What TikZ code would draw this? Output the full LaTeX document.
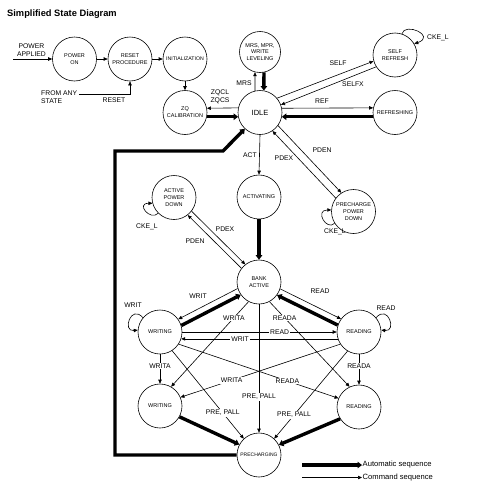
\documentclass[tikz,border=0pt]{standalone}
\usepackage{fontspec}
\setmainfont{Liberation Sans}
\usetikzlibrary{arrows.meta}
\begin{document}
\begin{tikzpicture}[x=1pt,y=-1pt,
  st/.style={circle, draw, line width=0.6pt, minimum size=44pt, inner sep=0pt, align=center, font=\fontsize{5.5}{6.8}\selectfont},
  cmd/.style={line width=0.6pt, -{Triangle[length=4pt,width=3.4pt]}},
  autoseq/.style={line width=3.4pt, -{Triangle[length=4.5pt,width=6.5pt]}},
  lbl/.style={font=\fontsize{6.8}{8}\selectfont, inner sep=0.5pt},
  lblw/.style={lbl, fill=white, inner sep=1pt}]
\useasboundingbox (0,0) rectangle (500,490);

\node[anchor=west, inner sep=0pt, font=\bfseries\fontsize{9.3}{11}\selectfont] (title) at (7,14) {Simplified State Diagram};

% states
\node[st] (pon) at (74.5,59) {POWER\\ON};
\node[st] (rst) at (130,59) {RESET\\PROCEDURE};
\node[st, font=\fontsize{5.2}{6.5}\selectfont] (init) at (185,59) {INITIALIZATION};
\node[st] (zq) at (185,112.5) {ZQ\\CALIBRATION};
\node[st, font=\fontsize{7.5}{9}\selectfont] (idle) at (260,112.5) {IDLE};
\node[st, minimum size=41pt] (mrs) at (260,52) {MRS, MPR,\\WRITE\\LEVELING};
\node[st] (self) at (395,55) {SELF\\REFRESH};
\node[st] (refr) at (395,112.5) {REFRESHING};
\node[st] (apd) at (174,197.5) {ACTIVE\\POWER\\DOWN};
\node[st] (actv) at (259,197) {ACTIVATING};
\node[st] (ppd) at (353.5,211.5) {PRECHARGE\\POWER\\DOWN};
\node[st] (ba) at (259,282) {BANK\\ACTIVE};
\node[st] (wr1) at (160,332) {WRITING};
\node[st] (rd1) at (359,332) {READING};
\node[st] (wr2) at (160,406) {WRITING};
\node[st] (rd2) at (359,407) {READING};
\node[st, font=\fontsize{5}{6}\selectfont] (pre) at (259,455) {PRECHARGING};

% outside labels / coordinates
\node[lbl, align=center, font=\fontsize{6.8}{7.8}\selectfont] (pwr) at (31.5,50) {POWER\\APPLIED};
\coordinate (pas) at (13,59);
\node[lbl, align=left, anchor=west, font=\fontsize{6.8}{7.8}\selectfont] (fas) at (40.5,97) {FROM ANY\\STATE};
\coordinate (fasl) at (79,94);
\coordinate (k1) at (115,455);
\coordinate (k2) at (115,151);
\coordinate (k3) at (223,151);

% power-up sequence
\draw[cmd] (pas) -- (pon.west);
\draw[cmd] (pon.east) -- (rst.west);
\draw[cmd] (rst.east) -- (init.west);
\draw[cmd] (fasl) -| (rst.south);
\draw[cmd] (init.south) -- (zq.north);

% idle neighbourhood
\draw[cmd] (idle.168.2) -- (zq.11.8);
\draw[autoseq] (zq.-11.8) -- (idle.191.8);
\draw[cmd] (idle.103) -- (mrs.256);
\draw[autoseq] (mrs.281) -- (idle.80);
\draw[cmd] (idle.40) -- (self.196);
\draw[cmd] (self.212) -- (idle.20);
\draw[cmd] (self.72) .. controls +(3,-12) and +(22,-8) .. (self.30);
\draw[cmd] (idle.11.8) -- (refr.168.2);
\draw[autoseq] (refr.191.8) -- (idle.-11.8);
\draw[cmd] (idle.south) -- (actv.north);
\draw[cmd] (idle.-36.6) -- (ppd.123.4);
\draw[cmd] (ppd.143.4) -- (idle.-56.6);
\draw[cmd] (ppd.212) .. controls +(-8,8) and +(-17,0) .. (ppd.176);

% bank active
\draw[autoseq] (actv.south) -- (ba.north);
\draw[cmd] (apd.-38) -- (ba.128);
\draw[cmd] (ba.142) -- (apd.-52);
\draw[cmd] (apd.225) .. controls +(-8,8) and +(-17,0) .. (apd.195);

\draw[cmd] (ba.197.8) -- (wr1.35.8);
\draw[autoseq] (wr1.17.8) -- (ba.215.8);
\draw[cmd] (ba.342.2) -- (rd1.144.2);
\draw[autoseq] (rd1.162.2) -- (ba.324.2);
\draw[cmd] (wr1.140) .. controls +(-12,-14) and +(-16,2) .. (wr1.175);
\draw[cmd] (rd1.40) .. controls +(12,-14) and +(16,2) .. (rd1.5);

\draw[cmd] (wr1.east) -- coordinate[pos=0.63] (lRead) (rd1.west);
\draw[cmd] (rd1.198.5) -- coordinate[pos=0.624] (lWrit) (wr1.-18.5);
\draw[cmd] (ba.242) -- coordinate[pos=0.19] (lWritaA) (wr2.60);
\draw[cmd] (ba.298) -- coordinate[pos=0.19] (lReadaA) (rd2.115);
\draw[cmd] (wr1.south) -- coordinate[pos=0.4] (lWritaB) (wr2.north);
\draw[cmd] (rd1.south) -- coordinate[pos=0.38] (lReadaB) (rd2.north);
\draw[cmd] (wr1.-33) -- coordinate[pos=0.68] (lReadaC) (rd2.157);
\draw[cmd] (rd1.213) -- coordinate[pos=0.68] (lWritaC) (wr2.23);
\draw[cmd] (wr1.-57) -- coordinate[pos=0.707] (lPreA) (pre.133);
\draw[cmd] (rd1.239) -- coordinate[pos=0.73] (lPreB) (pre.47);
\draw[cmd] (ba.south) -- coordinate[pos=0.72] (lPreC) (pre.north);
\draw[autoseq] (wr2.-29) -- (pre.152);
\draw[autoseq] (rd2.212) -- (pre.27.5);

% return to idle
\draw[autoseq, line join=miter] (pre.west) -- (k1) -- (k2) -- (k3) -- (idle.-133);

% labels beside lines
\node[lbl] (tReset) at (114,100) {RESET};
\node[lbl, align=center, font=\fontsize{6.8}{7.6}\selectfont] (tZq) at (220,97) {ZQCL\\ZQCS};
\node[lbl] (tMrs) at (244,83) {MRS};
\node[lbl] (tSelf) at (338,63) {SELF};
\node[lbl] (tSelfx) at (353,84) {SELFX};
\node[lbl] (tRef) at (322,101) {REF};
\node[lbl] (tCke1) at (438,38) {CKE\_L};
\node[lbl] (tAct) at (250,155) {ACT};
\node[lbl] (tPdex1) at (284,158) {PDEX};
\node[lbl] (tPden1) at (322,150) {PDEN};
\node[lbl] (tCke2) at (147,227) {CKE\_L};
\node[lbl] (tCke3) at (335,232) {CKE\_L};
\node[lbl] (tPdex2) at (225,229) {PDEX};
\node[lbl] (tPden2) at (195,241) {PDEN};
\node[lbl] (tWrit1) at (198,296) {WRIT};
\node[lbl] (tRead1) at (320,291) {READ};
\node[lbl] (tWrit2) at (133,305) {WRIT};
\node[lbl] (tRead2) at (386,308) {READ};

% labels on lines
\node[lblw] (tRead3) at (lRead) {READ};
\node[lblw] (tWrit3) at (lWrit) {WRIT};
\node[lblw] (tWritaA) at (lWritaA) {WRITA};
\node[lblw] (tReadaA) at (lReadaA) {READA};
\node[lblw] (tWritaB) at (lWritaB) {WRITA};
\node[lblw] (tReadaB) at (lReadaB) {READA};
\node[lblw] (tReadaC) at (lReadaC) {READA};
\node[lblw] (tWritaC) at (lWritaC) {WRITA};
\node[lblw] (tPreA) at (lPreA) {PRE, PALL};
\node[lblw] (tPreB) at (lPreB) {PRE, PALL};
\node[lblw] (tPreC) at (lPreC) {PRE, PALL};

% legend
\node[anchor=west, inner sep=0.5pt, font=\fontsize{7.6}{9}\selectfont] (lg1) at (362,465) {Automatic sequence};
\node[anchor=west, inner sep=0.5pt, font=\fontsize{7.6}{9}\selectfont] (lg2) at (362,477.5) {Command sequence};
\coordinate (lga) at (302,465);
\coordinate (lgb) at (302,477.5);
\draw[autoseq] (lga) -- (lg1.west);
\draw[cmd] (lgb) -- (lg2.west);
\end{tikzpicture}
\end{document}
